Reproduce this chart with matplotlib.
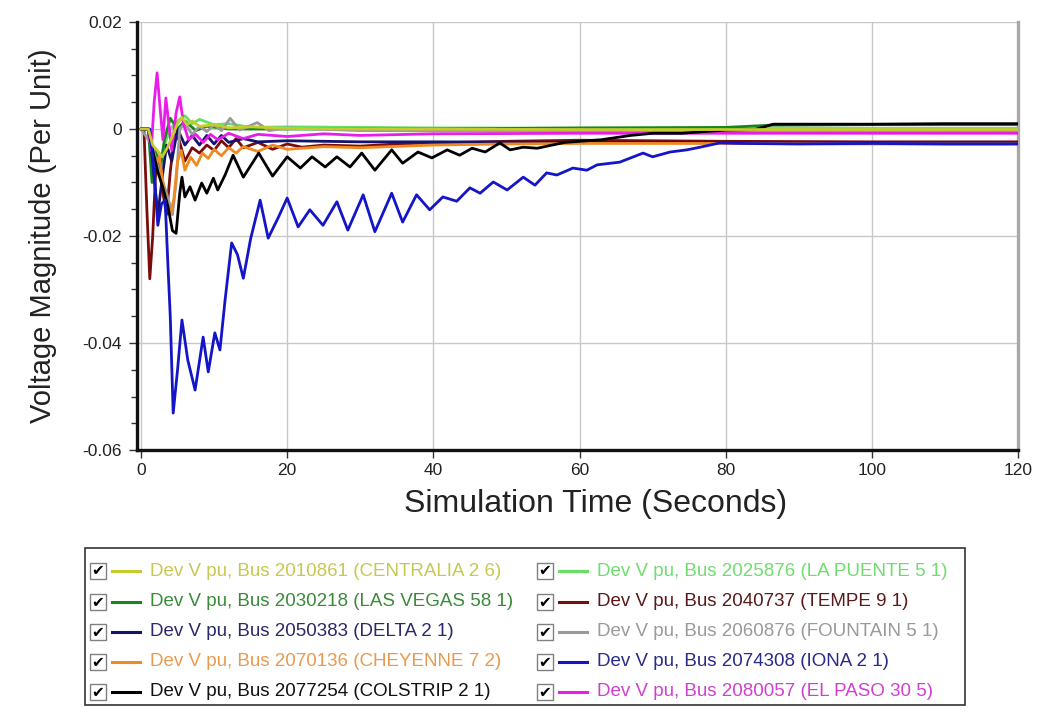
import matplotlib
matplotlib.use("Agg")
import matplotlib.pyplot as plt
from matplotlib.patches import Rectangle
from matplotlib.lines import Line2D
from matplotlib.ticker import MultipleLocator, FuncFormatter

plt.rcParams['font.family'] = ['Liberation Sans', 'DejaVu Sans']

# --- bus voltage deviation traces (per unit) ---
LABELS = [
    "Dev V pu, Bus 2010861 (CENTRALIA 2 6)",
    "Dev V pu, Bus 2025876 (LA PUENTE 5 1)",
    "Dev V pu, Bus 2030218 (LAS VEGAS 58 1)",
    "Dev V pu, Bus 2040737 (TEMPE 9 1)",
    "Dev V pu, Bus 2050383 (DELTA 2 1)",
    "Dev V pu, Bus 2060876 (FOUNTAIN 5 1)",
    "Dev V pu, Bus 2070136 (CHEYENNE 7 2)",
    "Dev V pu, Bus 2074308 (IONA 2 1)",
    "Dev V pu, Bus 2077254 (COLSTRIP 2 1)",
    "Dev V pu, Bus 2080057 (EL PASO 30 5)",
]
COLORS = ["#c4cc2c", "#66e066", "#14881e", "#7a0c0c", "#14146e",
          "#9a9a9a", "#f08a20", "#1414c8", "#000000", "#e81ee8"]
TEXT_COLORS = ["#c8c850", "#70dc70", "#3a8a3a", "#5a1a1a", "#2a2a6a",
               "#9a9a9a", "#e89a50", "#2a2a8a", "#111111", "#d040d0"]

t_centralia = [0, 1.0, 1.6, 2.2, 2.9, 3.6, 4.4, 5.0, 5.6, 6.3, 7.0, 8.0, 10, 12, 15, 20, 30, 60, 120]
v_centralia = [0, 0, -0.003, -0.004, -0.0052, -0.0035, -0.001, 0.001, 0.0022, 0.0008, 0.0015, 0.0005,
               0.0008, 0.0002, 0.0004, 0.0001, 0.0, -0.0001, -0.0001]

t_lapuente = [0, 1.0, 1.5, 2.0, 2.6, 3.2, 4.0, 5.0, 6.0, 7.0, 8.0, 10, 12, 15, 20, 40, 80, 120]
v_lapuente = [0, 0, -0.004, -0.009, -0.006, -0.003, 0.0, 0.0015, 0.0025, 0.001, 0.0018, 0.0008,
              0.001, 0.0003, 0.0004, 0.0002, 0.0001, 0.0001]

t_lasvegas = [0, 1.0, 1.5, 2.0, 2.6, 3.2, 4.0, 5.0, 6.0, 7.5, 9, 12, 20, 40, 60, 80, 86, 100, 120]
v_lasvegas = [0, 0, -0.01, -0.004, -0.008, -0.002, 0.002, 0.0, 0.0015, -0.0003, 0.0005, 0.0,
              0.0, 0.0, 0.0002, 0.0003, 0.0007, 0.0008, 0.0008]

t_tempe = [0, 0.4, 0.8, 1.2, 1.6, 2.0, 2.5, 3.0, 3.5, 4.0, 4.6, 5.2, 6.0, 7.0, 8.0, 9.0, 10.0,
           11.0, 12.0, 13.0, 14.0, 16.0, 18.0, 20.0, 22.0, 25.0, 30.0, 35.0, 40.0, 50.0, 60.0,
           70.0, 80.0, 100.0, 120.0]
v_tempe = [0, 0, -0.015, -0.028, -0.02, -0.008, -0.005, -0.012, -0.016, -0.008, -0.001, -0.002,
           -0.006, -0.0035, -0.0045, -0.003, -0.004, -0.0022, -0.0035, -0.0018, -0.0035, -0.0025,
           -0.0038, -0.0028, -0.0034, -0.003, -0.0032, -0.0028, -0.0026, -0.0023, -0.0021,
           -0.0022, -0.0023, -0.0024, -0.0024]

t_delta = [0, 1.0, 1.5, 2.3, 3.0, 3.5, 4.2, 5.0, 6.0, 7.0, 8.0, 9.0, 10.0, 11.0, 12.0, 14, 16,
           20, 30, 40, 60, 80, 100, 120]
v_delta = [0, 0, -0.005, -0.016, -0.008, -0.003, -0.006, 0.0, -0.003, -0.0012, -0.003, -0.0012,
           -0.0028, -0.0012, -0.0025, -0.0018, -0.0024, -0.0022, -0.0024, -0.0024, -0.0025,
           -0.0026, -0.0026, -0.0026]

t_fountain = [0, 1.5, 2.5, 3.5, 4.3, 4.8, 5.3, 6.0, 7.0, 8.0, 9.0, 10.0, 11.0, 12.2, 13.5, 15.9,
              17.5, 20, 30, 60, 120]
v_fountain = [0, -0.003, -0.008, -0.012, -0.016, -0.01, 0.0, 0.001, -0.001, 0.0005, -0.0005,
              0.0008, -0.0003, 0.002, -0.0002, 0.0012, -0.0003, 0.0002, -0.0003, -0.0004, -0.0005]

t_cheyenne = [0, 1.0, 1.5, 2.0, 2.5, 3.0, 3.5, 4.0, 4.5, 5.0, 5.5, 6.0, 6.8, 7.6, 8.4, 9.2,
              10.0, 11.0, 12.0, 13.0, 14.0, 16, 18, 20, 25, 30, 40, 50, 60, 80, 100, 120]
v_cheyenne = [0, 0, -0.004, -0.007, -0.005, -0.01, -0.014, -0.016, -0.013, -0.006, -0.004,
              -0.0077, -0.0053, -0.0068, -0.0045, -0.0055, -0.0038, -0.005, -0.0035, -0.0045,
              -0.0033, -0.0042, -0.003, -0.0038, -0.0033, -0.0035, -0.003, -0.0028, -0.0027,
              -0.0027, -0.0028, -0.0028]

t_iona = [0, 1.2, 1.8, 2.3, 2.8, 3.3, 3.7, 4.0, 4.4, 5.0, 5.6, 6.4, 7.4, 8.5, 9.2, 10.1, 10.8,
          11.5, 12.4, 13.2, 14.0, 15.0, 16.3, 17.4, 18.8, 20.0, 21.5, 23.1, 24.9, 26.8, 28.3,
          30.4, 32.0, 34.3, 35.8, 37.7, 39.5, 41.3, 43.2, 45.0, 46.4, 48.2, 50.1, 52.3, 53.9,
          55.5, 56.9, 59.1, 61.0, 62.4, 65.5, 68.7, 70.0, 72.4, 74.7, 76.5, 79.2, 82, 90, 100,
          110, 120]
v_iona = [0, 0, -0.008, -0.018, -0.014, -0.0133, -0.026, -0.035, -0.0531, -0.045, -0.0357,
          -0.0432, -0.0488, -0.0389, -0.0454, -0.0381, -0.0413, -0.032, -0.0213, -0.0235,
          -0.0279, -0.0205, -0.0133, -0.0204, -0.0165, -0.0129, -0.0183, -0.0151, -0.018,
          -0.0136, -0.0189, -0.0123, -0.0192, -0.012, -0.0174, -0.0123, -0.0151, -0.0127,
          -0.0135, -0.011, -0.012, -0.0099, -0.0114, -0.009, -0.0105, -0.0082, -0.0086,
          -0.0073, -0.0077, -0.0067, -0.0062, -0.0045, -0.0052, -0.0043, -0.0039, -0.0034,
          -0.0026, -0.0027, -0.0028, -0.0027, -0.0028, -0.0028]

t_colstrip = [0, 1.0, 1.6, 2.3, 3.0, 3.7, 4.3, 4.8, 5.3, 5.6, 6.0, 6.7, 7.4, 8.3, 9.0, 9.9,
              10.5, 11.5, 12.6, 14.0, 16.1, 18.0, 20.0, 21.8, 23.4, 25.2, 26.8, 28.6, 30.2,
              32.0, 34.3, 35.8, 37.9, 39.8, 41.9, 43.6, 45.3, 47.1, 49.1, 50.5, 52.3, 54.2,
              58, 63, 67, 70, 74, 80, 84, 86.5, 90, 100, 110, 120]
v_colstrip = [0, 0, -0.004, -0.008, -0.011, -0.0146, -0.019, -0.0195, -0.012, -0.009, -0.0127,
              -0.0108, -0.0133, -0.0101, -0.012, -0.0092, -0.0114, -0.0086, -0.0049, -0.009,
              -0.0045, -0.0088, -0.0052, -0.0073, -0.0052, -0.0071, -0.0052, -0.0071, -0.0045,
              -0.0077, -0.0039, -0.0064, -0.0043, -0.0054, -0.0039, -0.0049, -0.0036, -0.0043,
              -0.0026, -0.0039, -0.0034, -0.0036, -0.0025, -0.002, -0.0012, -0.0008, -0.0008,
              -0.0002, -0.0001, 0.0009, 0.0009, 0.0009, 0.001, 0.001]

t_elpaso = [0, 1.0, 1.4, 1.8, 2.2, 2.6, 3.0, 3.4, 3.8, 4.2, 4.8, 5.3, 5.8, 6.5, 7.5, 8.5, 9.5,
            10.5, 12, 14, 16, 20, 25, 30, 40, 60, 80, 100, 120]
v_elpaso = [0, 0, -0.004, 0.005, 0.0105, 0.004, -0.002, 0.0058, 0.001, -0.004, 0.003, 0.006,
            0.001, -0.002, -0.001, -0.0025, -0.001, -0.002, -0.0008, -0.0018, -0.001, -0.0014,
            -0.0009, -0.0012, -0.0009, -0.0008, -0.0008, -0.0008, -0.0008]

SERIES = [
    (t_centralia, v_centralia), (t_lapuente, v_lapuente), (t_lasvegas, v_lasvegas),
    (t_tempe, v_tempe), (t_delta, v_delta), (t_fountain, v_fountain),
    (t_cheyenne, v_cheyenne), (t_iona, v_iona), (t_colstrip, v_colstrip),
    (t_elpaso, v_elpaso),
]
# drawing order (last on top)
Z_ORDER = [1, 2, 3, 4, 5, 6, 9, 8, 7, 0]

W, H = 1037, 719
fig = plt.figure(figsize=(W / 100, H / 100), dpi=100)
fig.patch.set_facecolor("white")

ax = fig.add_axes([137 / W, 1 - 450 / H, 881 / W, 428 / H])
for rank, i in enumerate(Z_ORDER):
    t, v = SERIES[i]
    ax.plot(t, v, color=COLORS[i], lw=2.0, zorder=3 + rank,
            solid_joinstyle="round", solid_capstyle="round")

ax.set_xlim(-0.55, 120)
ax.set_ylim(-0.06, 0.02)
ax.xaxis.set_major_locator(MultipleLocator(20))
ax.yaxis.set_major_locator(MultipleLocator(0.02))
ax.yaxis.set_minor_locator(MultipleLocator(0.005))
ax.yaxis.set_major_formatter(FuncFormatter(lambda v, p: "0" if abs(v) < 1e-9 else f"{v:.2f}"))
ax.grid(True, which="major", color="#c8c8c8", lw=1.0, zorder=0)

for side in ("left", "bottom"):
    ax.spines[side].set_linewidth(2.4)
    ax.spines[side].set_color("#111111")
ax.spines["top"].set_visible(False)
ax.spines["right"].set_linewidth(2.4)
ax.spines["right"].set_color("#a8a8a8")

ax.tick_params(axis="both", which="major", length=6, width=1, labelsize=12.5,
               colors="#333333", labelcolor="#222222")
ax.tick_params(axis="y", which="major", pad=5)
ax.tick_params(axis="y", which="minor", length=4, width=1, colors="#333333")

ax.set_ylabel("Voltage Magnitude (Per Unit)", fontsize=21, color="#222222", labelpad=18)
ax.set_xlabel("Simulation Time (Seconds)", fontsize=23, color="#222222", labelpad=8)
ax.xaxis.set_label_coords(0.52, -0.09)

# --- legend panel with checkbox rows ---
def fx(px):
    return px / W


def fy(py):
    return 1 - py / H


fig.patches.append(Rectangle((fx(85), fy(705)), fx(965) - fx(85), fy(548) - fy(705),
                             transform=fig.transFigure, fill=False,
                             edgecolor="#333333", lw=1.2))

col_x = [90, 537]
row_y = [571, 602, 632, 662, 692]
for i, label in enumerate(LABELS):
    col = i % 2
    row = i // 2
    x0 = col_x[col]
    y0 = row_y[row]
    fig.patches.append(Rectangle((fx(x0), fy(y0 + 8)), 16 / W, 16 / H,
                                 transform=fig.transFigure, facecolor="white",
                                 edgecolor="#808080", lw=1.0))
    fig.text(fx(x0 + 8), fy(y0), "\u2714", fontsize=11, ha="center", va="center",
             color="black", family="DejaVu Sans")
    fig.lines.append(Line2D([fx(x0 + 22), fx(x0 + 50)], [fy(y0), fy(y0)],
                            transform=fig.transFigure, color=COLORS[i], lw=2.2))
    fig.text(fx(x0 + 60), fy(y0), label, fontsize=13.5, ha="left", va="center",
             color=TEXT_COLORS[i])

fig.savefig("out.png", dpi=100)
